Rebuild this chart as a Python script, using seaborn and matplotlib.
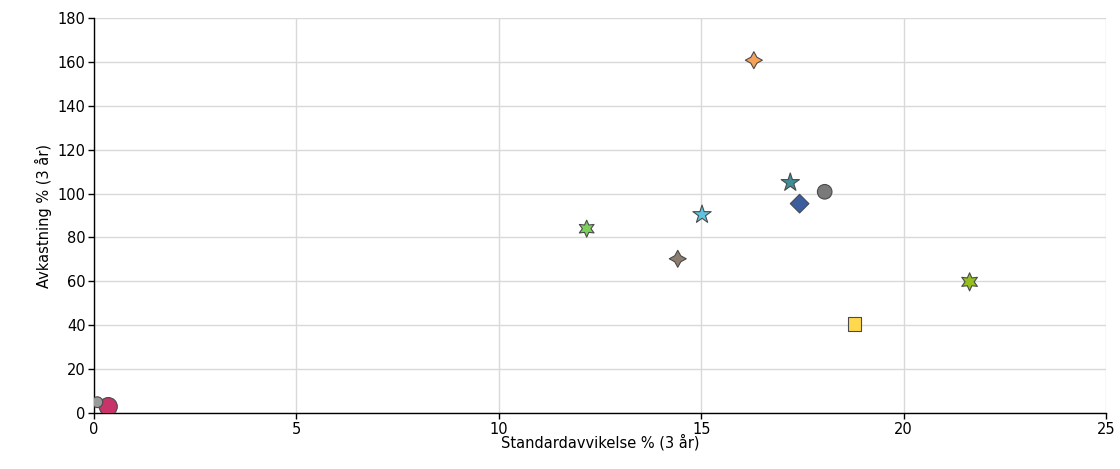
import matplotlib
matplotlib.use("Agg")
import matplotlib.pyplot as plt
import seaborn as sns
import pandas as pd

# ── Data ──────────────────────────────────────────────────────────────────────
funds = ["A", "B", "C", "D", "E", "F", "G", "H", "I", "J", "K"]
std_dev = [16.3, 17.2, 18.05, 17.43, 15.02, 12.17, 14.42, 21.63, 18.79, 0.35, 0.08]
returns = [160.7, 105.0, 100.8, 95.4, 90.4, 84.0, 70.3, 59.8, 40.6, 3.0, 5.0]
colors = ["#F4A25A", "#3F8E97", "#7A7A7A", "#3C5E9E", "#5EC3E0", "#7ED05C",
          "#8C7D70", "#95BF1E", "#FFD84D", "#C8336A", "#9A9A9A"]
markers = [(4, 1, 0), "*", "o", "D", "*", (6, 1, 0), (4, 1, 0), (6, 1, 0), "s", "o", "o"]
sizes = [150, 190, 110, 90, 190, 150, 150, 170, 95, 170, 60]

df = pd.DataFrame({"fund": funds, "std": std_dev, "ret": returns, "size": sizes})

sns.set_style("white")
plt.rcParams["font.family"] = ["DejaVu Sans"]
plt.rcParams["text.color"] = "black"
plt.rcParams["axes.labelcolor"] = "black"
plt.rcParams["xtick.color"] = "black"
plt.rcParams["ytick.color"] = "black"

fig = plt.figure(figsize=(11.2, 4.69), dpi=100)
ax = fig.add_axes([0.084, 0.119, 0.9035, 0.843])

sns.scatterplot(
    data=df, x="std", y="ret", hue="fund", style="fund",
    palette=dict(zip(funds, colors)), markers=dict(zip(funds, markers)),
    size="size", sizes=(min(sizes), max(sizes)),
    edgecolor="#4a4a4a", linewidth=0.8, legend=False, ax=ax, zorder=3,
)

ax.set_xlim(0, 25)
ax.set_ylim(0, 180)
ax.set_xticks(range(0, 26, 5))
ax.set_yticks(range(0, 181, 20))
ax.grid(True, color="#d9d9d9", linewidth=1)
ax.set_axisbelow(True)
for s in ["top", "right"]:
    ax.spines[s].set_visible(False)
for s in ["left", "bottom"]:
    ax.spines[s].set_color("black")
    ax.spines[s].set_linewidth(1)
ax.tick_params(direction="out", length=4, width=1, color="black",
               labelsize=10.5, labelcolor="black", left=True, bottom=True, pad=2)
ax.set_xlabel("Standardavvikelse % (3 år)", fontsize=10.5, labelpad=-2)
ax.set_ylabel("Avkastning % (3 år)", fontsize=10.5, labelpad=4)

fig.savefig("out.png", dpi=100)
